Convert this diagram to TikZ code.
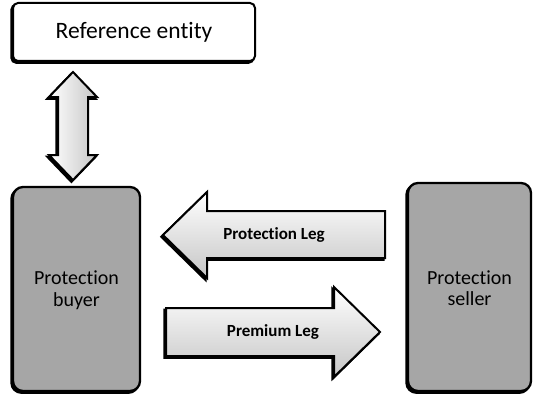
\documentclass[tikz,border=0pt]{standalone}
\usepackage{fontspec}
\setmainfont[Ligatures={NoCommon,NoRequired,NoContextual}]{Carlito}
\usetikzlibrary{calc}
\tikzset{
  shadowed/.style={preaction={fill=black,draw=black,line width=2.2pt,transform canvas={shift={(-1.6pt,-1.8pt)}}}},
  entbox/.style={draw=black,line width=2pt,fill=white,rounded corners=5pt,shadowed},
  partybox/.style={draw=black,line width=2.3pt,fill=gray!70,rounded corners=10pt,shadowed},
  harrow/.style={draw=black,line width=2pt,line join=miter,top color=white,bottom color=gray!45,shadowed},
  varrow/.style={draw=black,line width=2pt,line join=miter,left color=white,right color=gray!45,shadowed},
  boxtext/.style={font=\fontsize{20}{22}\selectfont,align=center},
  legtext/.style={font=\bfseries\fontsize{17}{19}\selectfont}
}
\begin{document}
\begin{tikzpicture}[x=1pt,y=-1pt]
\useasboundingbox (0,0) rectangle (534,401);
% boxes
\draw[entbox] (13,3) rectangle (255,61);
\node[font=\fontsize{23.5}{25}\selectfont] (ref) at (134,32) {Reference entity};
\draw[partybox] (13,187) rectangle (140,391);
\node[boxtext] (buyer) at (76.5,290) {Protection\\[-0.5pt]buyer};
\draw[partybox] (408,183) rectangle (531,391);
\node[boxtext] (seller) at (469.5,288) {Protection\\[-0.5pt]seller};
% double arrow
\draw[varrow] (73,72) -- (97,97) -- (88,97) -- (88,155) -- (97,155) -- (73,180)
   -- (49,155) -- (58,155) -- (58,97) -- (49,97) -- cycle;
% protection leg (left)
\draw[harrow] (163,235) -- (207,192) -- (207,211) -- (385,211) -- (385,258)
   -- (207,258) -- (207,278) -- cycle;
\node[legtext] (prot) at (274,235) {Protection Leg};
% premium leg (right)
\draw[harrow] (380,332) -- (334,287) -- (334,308) -- (166,308) -- (166,356)
   -- (334,356) -- (334,377) -- cycle;
\node[legtext] (prem) at (273,332) {Premium Leg};
\end{tikzpicture}
\end{document}
